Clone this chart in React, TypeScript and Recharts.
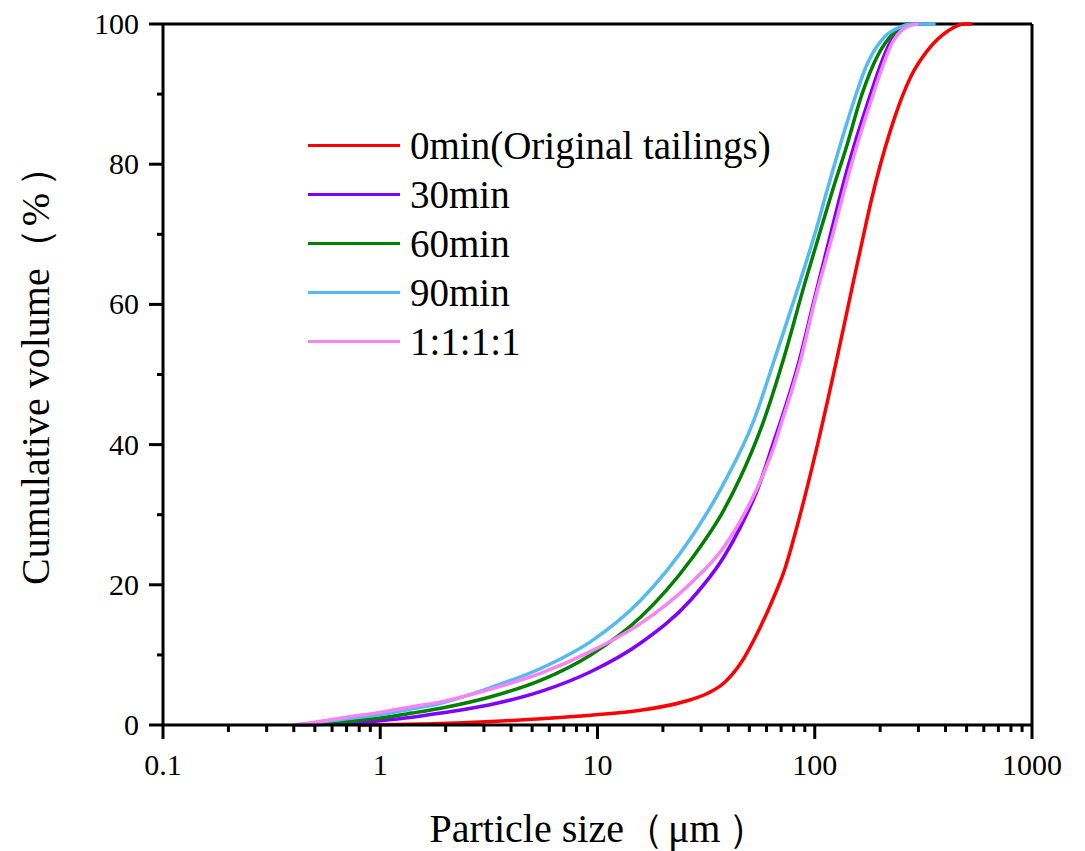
import React from "react";
import { LineChart, Line, XAxis, YAxis, Legend, ReferenceLine } from "recharts";

const FONT = '"Liberation Serif", "Times New Roman", serif';

// particle size (µm) vs cumulative volume (%)
const original = [
  { x: 0.8, y: 0 }, { x: 1.9, y: 0.2 }, { x: 5.5, y: 0.9 }, { x: 9.3, y: 1.4 },
  { x: 15.8, y: 2.1 }, { x: 26.8, y: 3.6 }, { x: 32, y: 4.5 }, { x: 38.2, y: 6 },
  { x: 45.6, y: 8.8 }, { x: 54.4, y: 13.1 }, { x: 64.9, y: 18.3 }, { x: 72, y: 21.8 },
  { x: 86, y: 30.2 }, { x: 103, y: 40 }, { x: 128, y: 53 }, { x: 150, y: 63 },
  { x: 168, y: 70 }, { x: 181, y: 74.5 }, { x: 224, y: 85 }, { x: 277, y: 92.5 },
  { x: 332, y: 96.3 }, { x: 410, y: 99 }, { x: 486, y: 100 }, { x: 530, y: 100 },
];

const min30 = [
  { x: 0.4, y: 0 }, { x: 0.5, y: 0.05 }, { x: 0.7, y: 0.2 }, { x: 1, y: 0.6 },
  { x: 1.4, y: 1.1 }, { x: 1.9, y: 1.7 }, { x: 3.2, y: 2.9 }, { x: 5.5, y: 4.8 },
  { x: 9.3, y: 7.6 }, { x: 15.8, y: 11.7 }, { x: 26.8, y: 17.8 }, { x: 38.2, y: 24 },
  { x: 45.6, y: 28.3 }, { x: 54.4, y: 33.5 }, { x: 64.9, y: 40.5 }, { x: 70, y: 43.5 },
  { x: 84, y: 51.5 }, { x: 100, y: 61 }, { x: 115, y: 68.5 }, { x: 142, y: 79.6 },
  { x: 175, y: 88.7 }, { x: 224, y: 97.5 }, { x: 260, y: 99.5 }, { x: 290, y: 100 },
  { x: 330, y: 100 },
];

const min60 = [
  { x: 0.4, y: 0 }, { x: 0.5, y: 0.1 }, { x: 0.7, y: 0.5 }, { x: 1, y: 1 },
  { x: 1.4, y: 1.7 }, { x: 1.9, y: 2.4 }, { x: 3.2, y: 4 }, { x: 5.5, y: 6.4 },
  { x: 9.3, y: 10 }, { x: 15.8, y: 15.4 }, { x: 26.8, y: 23.5 }, { x: 38.2, y: 30.7 },
  { x: 45.6, y: 35.4 }, { x: 58.4, y: 43.5 }, { x: 71.5, y: 52 }, { x: 90, y: 63 },
  { x: 105, y: 70 }, { x: 122, y: 76.7 }, { x: 140, y: 82.5 }, { x: 165, y: 90 },
  { x: 195, y: 95.5 }, { x: 231, y: 98.7 }, { x: 270, y: 100 }, { x: 300, y: 100 },
];

const min90 = [
  { x: 0.4, y: 0 }, { x: 0.5, y: 0.3 }, { x: 0.7, y: 0.9 }, { x: 1, y: 1.5 },
  { x: 1.4, y: 2.3 }, { x: 1.9, y: 3.1 }, { x: 3.2, y: 5.3 }, { x: 5.5, y: 8.1 },
  { x: 9.3, y: 11.9 }, { x: 15.8, y: 17.8 }, { x: 26.8, y: 26.6 }, { x: 38.2, y: 34.5 },
  { x: 52.5, y: 43.5 }, { x: 65, y: 52 }, { x: 86, y: 63.5 }, { x: 100, y: 70 },
  { x: 115, y: 76.7 }, { x: 142, y: 86.3 }, { x: 175, y: 94.4 }, { x: 210, y: 98.2 },
  { x: 249, y: 99.6 }, { x: 280, y: 100 }, { x: 360, y: 100 },
];

const mixed = [
  { x: 0.4, y: 0 }, { x: 0.5, y: 0.4 }, { x: 0.7, y: 1.1 }, { x: 1, y: 1.8 },
  { x: 1.4, y: 2.6 }, { x: 1.9, y: 3.3 }, { x: 3.2, y: 5.1 }, { x: 5.5, y: 7.4 },
  { x: 9.3, y: 10.5 }, { x: 15.8, y: 14.5 }, { x: 26.8, y: 20.2 }, { x: 38.2, y: 25.4 },
  { x: 45.6, y: 29.2 }, { x: 54.4, y: 33.8 }, { x: 64.9, y: 39.7 }, { x: 71, y: 43.5 },
  { x: 86, y: 52 }, { x: 100, y: 60.5 }, { x: 118, y: 68.7 }, { x: 147, y: 79.8 },
  { x: 181, y: 88.9 }, { x: 231, y: 97.7 }, { x: 270, y: 99.7 }, { x: 300, y: 100 },
];

const series = [
  { name: "0min(Original tailings)", data: original, color: "#ff0000" },
  { name: "30min", data: min30, color: "#7f00ff" },
  { name: "60min", data: min60, color: "#008000" },
  { name: "90min", data: min90, color: "#55b9f2" },
  { name: "1:1:1:1", data: mixed, color: "#f884f4" },
];

const majorXTicks = [0.1, 1, 10, 100, 1000];
const minorXTicks = majorXTicks.slice(0, -1).flatMap((d) =>
  [2, 3, 4, 5, 6, 7, 8, 9].map((m) => +(d * m).toPrecision(3))
);
const xTicks = [...majorXTicks, ...minorXTicks].sort((a, b) => a - b);
const yTicks = [0, 10, 20, 30, 40, 50, 60, 70, 80, 90, 100];

const XTick = ({ x, y, payload }: any) => {
  const major = majorXTicks.includes(payload.value);
  return (
    <g>
      <line x1={x} x2={x} y1={y} y2={y + (major ? 14 : 7)} stroke="#000" strokeWidth={3} />
      {major && (
        <text x={x} y={y + 50} textAnchor="middle" fontSize={30} fontFamily={FONT} fill="#000">
          {payload.value}
        </text>
      )}
    </g>
  );
};

const YTick = ({ x, y, payload }: any) => {
  const major = payload.value % 20 === 0;
  return (
    <g>
      <line x1={x} x2={x - (major ? 14 : 6)} y1={y} y2={y} stroke="#000" strokeWidth={3} />
      {major && (
        <text x={x - 24} y={y + 10} textAnchor="end" fontSize={30} fontFamily={FONT} fill="#000">
          {payload.value}
        </text>
      )}
    </g>
  );
};

const LegendBox = () => (
  <div style={{ fontFamily: FONT, fontSize: 39, color: "#000" }}>
    {series.map((s) => (
      <div key={s.name} style={{ display: "flex", alignItems: "center", height: 49 }}>
        <div style={{ width: 92, height: 3, background: s.color }} />
        <span style={{ marginLeft: 10, lineHeight: 1 }}>{s.name}</span>
      </div>
    ))}
  </div>
);

export default function App() {
  return (
    <LineChart
      width={1077}
      height={843}
      margin={{ top: 16, right: 53, bottom: 0, left: 0 }}
      style={{ background: "#fff" }}
    >
      <XAxis
        dataKey="x"
        type="number"
        scale="log"
        domain={[0.1, 1000]}
        allowDataOverflow
        ticks={xTicks}
        interval={0}
        height={126}
        tickSize={0}
        tickMargin={0}
        tickLine={false}
        axisLine={{ stroke: "#000", strokeWidth: 3 }}
        tick={<XTick />}
        label={() => (
          <text x={591} y={834} textAnchor="middle" fontSize={40} fontFamily={FONT} fill="#000">
            Particle size（<tspan dx={4}>μm</tspan><tspan dx={8}>）</tspan>
          </text>
        )}
      />
      <YAxis
        type="number"
        domain={[0, 100]}
        ticks={yTicks}
        interval={0}
        width={155}
        tickSize={0}
        tickMargin={0}
        tickLine={false}
        axisLine={{ stroke: "#000", strokeWidth: 3 }}
        tick={<YTick />}
        label={() => (
          <text
            x={27}
            y={358}
            transform="rotate(-90 27 358)"
            textAnchor="middle"
            dominantBaseline="central"
            fontSize={40}
            fontFamily={FONT}
            fill="#000"
          >
            Cumulative volume（<tspan dx={2}>%</tspan><tspan dx={6}>）</tspan>
          </text>
        )}
      />
      <ReferenceLine y={100} stroke="#000" strokeWidth={3} />
      <ReferenceLine x={1000} stroke="#000" strokeWidth={3} />
      {series.map((s) => (
        <Line
          key={s.name}
          data={s.data}
          dataKey="y"
          name={s.name}
          type="monotone"
          stroke={s.color}
          strokeWidth={3.5}
          dot={false}
          isAnimationActive={false}
        />
      ))}
      <Legend
        layout="vertical"
        align="center"
        verticalAlign="middle"
        content={<LegendBox />}
        wrapperStyle={{ left: 300, top: 113, width: "auto", bottom: "auto", right: "auto" }}
      />
    </LineChart>
  );
}
